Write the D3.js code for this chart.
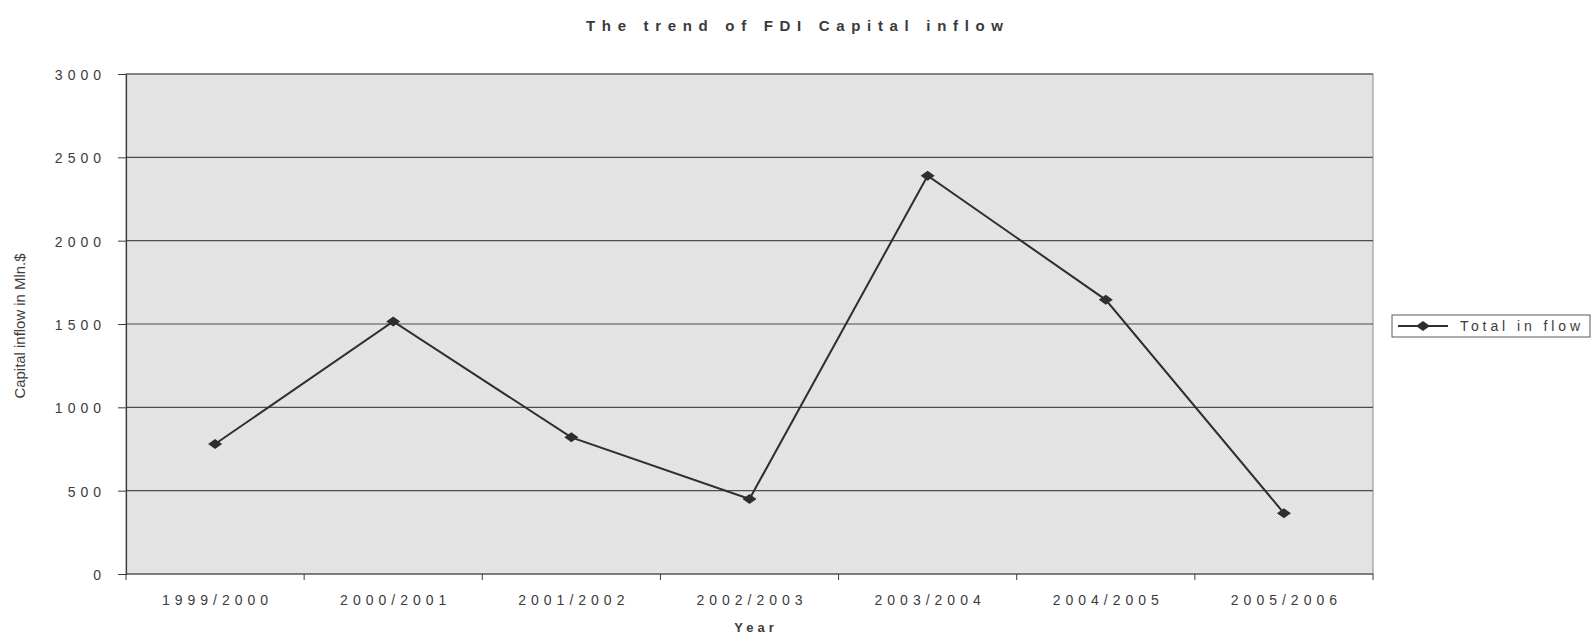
<!DOCTYPE html>
<html>
<head>
<meta charset="utf-8">
<script src="https://cdn.jsdelivr.net/npm/d3@7/dist/d3.min.js"></script>
<style>
  html, body { margin: 0; padding: 0; background: #ffffff; }
  svg { display: block; font-family: "Liberation Sans", Arial, sans-serif; }
</style>
</head>
<body>
<svg id="chart" width="1592" height="635"></svg>
<script>
// FDI capital inflow per financial year (Mln. $)
const years = ["1999/2000", "2000/2001", "2001/2002", "2002/2003", "2003/2004", "2004/2005", "2005/2006"];
const inflow = [780, 1515, 820, 450, 2390, 1645, 365];
const yTicks = [0, 500, 1000, 1500, 2000, 2500, 3000];
const seriesName = "Total in flow";
const chartTitle = "The trend of FDI Capital inflow";
const xTitle = "Year";
const yTitle = "Capital inflow in Mln.$";

const svg = d3.select("#chart");
const plot = { left: 126, right: 1373, top: 74, bottom: 574 };

const x = d3.scaleBand().domain(years).range([plot.left, plot.right]).padding(0);
const y = d3.scaleLinear().domain([0, 3000]).range([plot.bottom, plot.top]);

// fine dotted fill of the plot area
const defs = svg.append("defs");
const pat = defs.append("pattern")
  .attr("id", "dots").attr("width", 2).attr("height", 2)
  .attr("patternUnits", "userSpaceOnUse");
pat.append("rect").attr("width", 2).attr("height", 2).attr("fill", "#e9e9e9");
pat.append("rect").attr("width", 1).attr("height", 1).attr("fill", "#dcdcdc");
pat.append("rect").attr("x", 1).attr("y", 1).attr("width", 1).attr("height", 1).attr("fill", "#dfdfdf");

svg.append("rect")
  .attr("x", plot.left).attr("y", plot.top)
  .attr("width", plot.right - plot.left).attr("height", plot.bottom - plot.top)
  .attr("fill", "url(#dots)")
  .attr("stroke", "#8a8a8a").attr("stroke-width", 1);

// horizontal gridlines
svg.append("g").selectAll("line")
  .data(yTicks.filter(d => d > 0))
  .join("line")
  .attr("x1", plot.left).attr("x2", plot.right)
  .attr("y1", d => y(d)).attr("y2", d => y(d))
  .attr("stroke", "#4d4d4d").attr("stroke-width", 1.1);

// y axis
const yAxis = svg.append("g")
  .attr("transform", `translate(${plot.left},0)`)
  .call(d3.axisLeft(y).tickValues(yTicks).tickSize(8).tickPadding(12).tickFormat(d3.format("d")));
yAxis.select(".domain").attr("stroke", "#3a3a3a").attr("stroke-width", 1.2);
yAxis.selectAll(".tick line").attr("stroke", "#3a3a3a");
yAxis.selectAll(".tick text")
  .attr("font-size", 14).attr("fill", "#3c3c3c")
  .attr("letter-spacing", "5px").attr("dy", "0.4em")
  .style("font-family", "'Liberation Sans', Arial, sans-serif");

// x axis: labels centred in each category, ticks on category boundaries
const xAxis = svg.append("g").attr("transform", `translate(0,${plot.bottom})`);
xAxis.append("line")
  .attr("x1", plot.left).attr("x2", plot.right)
  .attr("stroke", "#3a3a3a").attr("stroke-width", 1.2);
const edges = years.map(d => x(d)).concat([x(years[years.length - 1]) + x.bandwidth()]);
xAxis.selectAll("line.tick")
  .data(edges)
  .join("line").attr("class", "tick")
  .attr("x1", d => d).attr("x2", d => d)
  .attr("y1", 0).attr("y2", 6)
  .attr("stroke", "#3a3a3a");
xAxis.selectAll("text")
  .data(years)
  .join("text")
  .attr("x", d => x(d) + x.bandwidth() / 2 + 2.5)
  .attr("y", 31)
  .attr("text-anchor", "middle")
  .attr("font-size", 14).attr("fill", "#3c3c3c")
  .attr("letter-spacing", "5px")
  .text(d => d);

// axis titles
svg.append("text")
  .attr("x", 756).attr("y", 632)
  .attr("text-anchor", "middle")
  .attr("font-size", 13).attr("font-weight", "bold").attr("fill", "#3c3c3c")
  .attr("letter-spacing", "4px")
  .text(xTitle);

svg.append("text")
  .attr("transform", "translate(25,326) rotate(-90)")
  .attr("text-anchor", "middle")
  .attr("font-size", 14).attr("fill", "#3c3c3c")
  .attr("textLength", 145).attr("lengthAdjust", "spacingAndGlyphs")
  .text(yTitle);

// chart title
svg.append("text")
  .attr("x", 586).attr("y", 31)
  .attr("font-size", 15).attr("font-weight", "bold").attr("fill", "#3a3a3a")
  .attr("textLength", 417).attr("lengthAdjust", "spacing")
  .text(chartTitle);

// series line and diamond markers
const diamond = (cx, cy) => `M${cx - 7},${cy}L${cx},${cy - 5}L${cx + 7},${cy}L${cx},${cy + 5}Z`;
const cx = d => x(d) + x.bandwidth() / 2;
const pts = years.map((d, i) => [cx(d), y(inflow[i])]);

svg.append("path")
  .attr("d", d3.line()(pts))
  .attr("fill", "none").attr("stroke", "#2e2e2e").attr("stroke-width", 2);

svg.append("g").selectAll("path")
  .data(pts)
  .join("path")
  .attr("d", p => diamond(p[0], p[1]))
  .attr("fill", "#2e2e2e");

// legend
const lg = svg.append("g");
lg.append("rect")
  .attr("x", 1392).attr("y", 315).attr("width", 198).attr("height", 22)
  .attr("fill", "#ffffff").attr("stroke", "#5a5a5a").attr("stroke-width", 1);
lg.append("line")
  .attr("x1", 1398).attr("x2", 1448).attr("y1", 326).attr("y2", 326)
  .attr("stroke", "#2e2e2e").attr("stroke-width", 2);
lg.append("path").attr("d", diamond(1423, 326)).attr("fill", "#2e2e2e");
lg.append("text")
  .attr("x", 1460).attr("y", 331)
  .attr("font-size", 14).attr("fill", "#3c3c3c")
  .attr("textLength", 120).attr("lengthAdjust", "spacing")
  .text(seriesName);
</script>
</body>
</html>
